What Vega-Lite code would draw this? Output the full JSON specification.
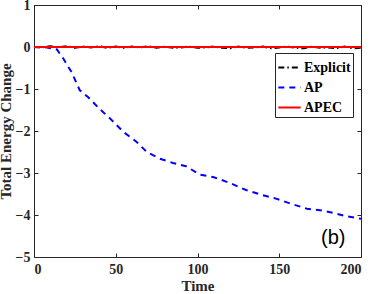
{
  "$schema": "https://vega.github.io/schema/vega-lite/v6.json",
  "width": 327,
  "height": 252,
  "autosize": "none",
  "padding": {"left": 34, "top": 5, "right": 13, "bottom": 37},
  "background": "white",
  "config": {
    "view": {"stroke": "#262626", "strokeWidth": 1},
    "font": "Liberation Serif",
    "axis": {
      "grid": false,
      "domain": false,
      "tickColor": "#262626",
      "tickSize": -4,
      "labelFont": "Liberation Serif",
      "labelFontWeight": "bold",
      "labelFontSize": 14,
      "labelColor": "#262626",
      "titleFont": "Liberation Serif",
      "titleFontWeight": "bold",
      "titleFontSize": 15,
      "titleColor": "#262626"
    }
  },
  "datasets": {
    "lines": [
      {"series": "Explicit", "t": 0, "v": 0},
      {"series": "Explicit", "t": 5, "v": -0.01},
      {"series": "Explicit", "t": 10, "v": 0.02},
      {"series": "Explicit", "t": 15, "v": -0.01},
      {"series": "Explicit", "t": 20, "v": 0.02},
      {"series": "Explicit", "t": 25, "v": -0.02},
      {"series": "Explicit", "t": 30, "v": 0.01},
      {"series": "Explicit", "t": 35, "v": -0.01},
      {"series": "Explicit", "t": 40, "v": 0.02},
      {"series": "Explicit", "t": 45, "v": -0.02},
      {"series": "Explicit", "t": 50, "v": 0.01},
      {"series": "Explicit", "t": 55, "v": -0.02},
      {"series": "Explicit", "t": 60, "v": 0.01},
      {"series": "Explicit", "t": 65, "v": -0.01},
      {"series": "Explicit", "t": 70, "v": 0.02},
      {"series": "Explicit", "t": 75, "v": -0.02},
      {"series": "Explicit", "t": 80, "v": 0.01},
      {"series": "Explicit", "t": 85, "v": -0.02},
      {"series": "Explicit", "t": 90, "v": -0.01},
      {"series": "Explicit", "t": 95, "v": 0.01},
      {"series": "Explicit", "t": 100, "v": -0.02},
      {"series": "Explicit", "t": 105, "v": -0.01},
      {"series": "Explicit", "t": 110, "v": 0.01},
      {"series": "Explicit", "t": 115, "v": -0.02},
      {"series": "Explicit", "t": 120, "v": -0.03},
      {"series": "Explicit", "t": 125, "v": 0.01},
      {"series": "Explicit", "t": 130, "v": -0.02},
      {"series": "Explicit", "t": 135, "v": -0.01},
      {"series": "Explicit", "t": 140, "v": 0.01},
      {"series": "Explicit", "t": 145, "v": -0.03},
      {"series": "Explicit", "t": 150, "v": -0.01},
      {"series": "Explicit", "t": 155, "v": 0.01},
      {"series": "Explicit", "t": 160, "v": -0.02},
      {"series": "Explicit", "t": 165, "v": -0.03},
      {"series": "Explicit", "t": 170, "v": 0.01},
      {"series": "Explicit", "t": 175, "v": -0.02},
      {"series": "Explicit", "t": 180, "v": -0.01},
      {"series": "Explicit", "t": 185, "v": -0.03},
      {"series": "Explicit", "t": 190, "v": 0.01},
      {"series": "Explicit", "t": 195, "v": -0.03},
      {"series": "Explicit", "t": 200, "v": -0.02},
      {"series": "AP", "t": 0, "v": 0},
      {"series": "AP", "t": 8, "v": -0.01},
      {"series": "AP", "t": 14, "v": -0.06},
      {"series": "AP", "t": 18, "v": -0.28},
      {"series": "AP", "t": 23, "v": -0.6},
      {"series": "AP", "t": 28, "v": -1.03},
      {"series": "AP", "t": 33, "v": -1.19},
      {"series": "AP", "t": 40, "v": -1.47},
      {"series": "AP", "t": 46.5, "v": -1.7},
      {"series": "AP", "t": 54.6, "v": -2.02},
      {"series": "AP", "t": 62.8, "v": -2.26},
      {"series": "AP", "t": 69, "v": -2.5},
      {"series": "AP", "t": 77, "v": -2.66},
      {"series": "AP", "t": 85, "v": -2.76},
      {"series": "AP", "t": 93, "v": -2.84},
      {"series": "AP", "t": 101.5, "v": -3.04},
      {"series": "AP", "t": 110, "v": -3.1},
      {"series": "AP", "t": 120, "v": -3.24},
      {"series": "AP", "t": 130, "v": -3.41},
      {"series": "AP", "t": 140, "v": -3.53},
      {"series": "AP", "t": 148, "v": -3.61},
      {"series": "AP", "t": 157, "v": -3.73},
      {"series": "AP", "t": 167, "v": -3.85},
      {"series": "AP", "t": 177, "v": -3.9},
      {"series": "AP", "t": 183, "v": -3.95},
      {"series": "AP", "t": 191, "v": -4.03},
      {"series": "AP", "t": 200, "v": -4.09},
      {"series": "APEC", "t": 0, "v": 0},
      {"series": "APEC", "t": 100, "v": 0},
      {"series": "APEC", "t": 200, "v": 0}
    ],
    "label": [{"t": 183, "v": -4.55, "txt": "(b)"}]
  },
  "resolve": {"axis": {"x": "independent", "y": "independent"}},
  "layer": [
    {
      "data": {"name": "lines"},
      "mark": {"type": "line", "strokeWidth": 2},
      "encoding": {
        "x": {
          "field": "t", "type": "quantitative",
          "scale": {"domain": [0, 200], "nice": false},
          "axis": {"values": [0, 50, 100, 150, 200], "title": "Time", "labelPadding": 9, "titlePadding": 2}
        },
        "y": {
          "field": "v", "type": "quantitative",
          "scale": {"domain": [-5, 1], "nice": false},
          "axis": {"values": [-5, -4, -3, -2, -1, 0, 1], "title": "Total Energy Change", "labelPadding": 8, "titlePadding": 2}
        },
        "color": {
          "field": "series", "type": "nominal",
          "scale": {"domain": ["Explicit", "AP", "APEC"], "range": ["#000000", "#0000ff", "#ff0000"]},
          "legend": {
            "title": null,
            "orient": "none",
            "legendX": 241,
            "legendY": 48,
            "symbolType": "stroke",
            "symbolSize": 500,
            "symbolStrokeWidth": 2,
            "labelFont": "Liberation Serif",
            "labelFontWeight": "bold",
            "labelFontSize": 14,
            "labelColor": "#000000",
            "fillColor": "white",
            "strokeColor": "#262626",
            "padding": 2,
            "rowPadding": 0,
            "labelOffset": 2
          }
        },
        "strokeDash": {
          "field": "series", "type": "nominal",
          "scale": {"domain": ["Explicit", "AP", "APEC"], "range": [[6, 3, 1.5, 3], [6, 5], [1, 0]]},
          "legend": null
        },
        "order": {"field": "t"}
      }
    },
    {
      "data": {"name": "label"},
      "mark": {"type": "text", "font": "Liberation Sans", "fontSize": 20, "color": "#000000"},
      "encoding": {
        "x": {"field": "t", "type": "quantitative", "axis": {"orient": "top", "values": [0, 50, 100, 150, 200], "labels": false, "title": null}},
        "y": {"field": "v", "type": "quantitative", "axis": {"orient": "right", "values": [-5, -4, -3, -2, -1, 0, 1], "labels": false, "title": null}},
        "text": {"field": "txt"}
      }
    }
  ]
}
